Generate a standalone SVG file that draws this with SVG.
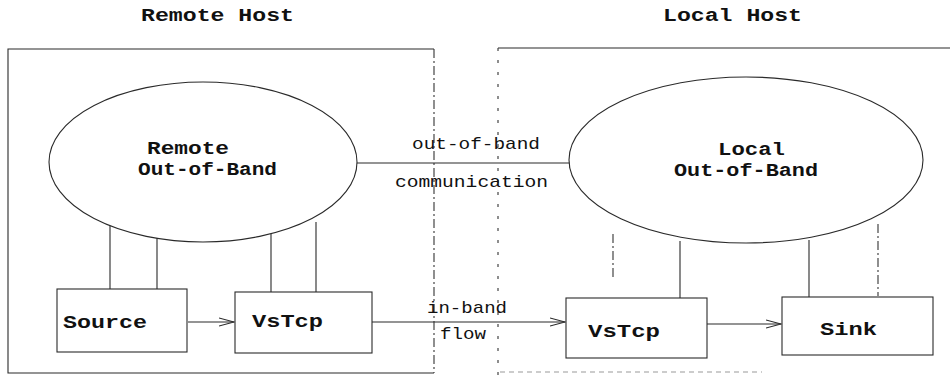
<svg xmlns="http://www.w3.org/2000/svg" width="950" height="376" viewBox="0 0 950 376">
  <style>
    .bg { fill: #ffffff; }
    .ln { stroke: #2a2a2a; stroke-width: 1.1; fill: none; }
    .dash { stroke: #333; stroke-width: 1.1; fill: none; stroke-dasharray: 9 3 2 3; }
    .sparse { stroke: #444; stroke-width: 1.2; fill: none; stroke-dasharray: 3 9; }
    .faint { stroke: #999; stroke-width: 1.2; fill: none; stroke-dasharray: 5 4; }
    .box { fill: #ffffff; stroke: #2a2a2a; stroke-width: 1.1; }
    .oval { fill: #ffffff; stroke: #2a2a2a; stroke-width: 1.1; }
    .title { font-family: "Liberation Mono", "Courier New", monospace; font-weight: bold; font-size: 18px; fill: #111; }
    .lbl { font-family: "Liberation Mono", "Courier New", monospace; font-size: 17px; fill: #111; }
  </style>
  <defs>
    <marker id="open" viewBox="0 0 16 10" refX="15" refY="5" markerWidth="16" markerHeight="10" markerUnits="userSpaceOnUse" orient="auto">
      <path d="M0,1 L15,5 L0,9" fill="none" stroke="#2a2a2a" stroke-width="1.1"/>
    </marker>
  </defs>
  <rect class="bg" width="950" height="376"/>

  <!-- host enclosures -->
  <g id="remote-host">
    <path class="ln" d="M434,49 L8,49 L8,373 L434,373"/>
    <path class="dash" d="M434,49 L434,373"/>
    <text class="title" x="141" y="21" textLength="153" lengthAdjust="spacingAndGlyphs">Remote Host</text>
  </g>
  <g id="local-host">
    <path class="ln" d="M498,48 L950,48"/>
    <path class="sparse" d="M498,48 L498,376"/>
    <path class="faint" d="M500,372 L762,372"/>
    <text class="title" x="663" y="21" textLength="139" lengthAdjust="spacingAndGlyphs">Local Host</text>
  </g>

  <!-- connectors -->
  <g id="connectors">
    <!-- out-of-band communication -->
    <path class="ln" d="M357,163 L570,163 M570,158 L570,168"/>
    <text class="lbl" x="412" y="149" textLength="128" lengthAdjust="spacingAndGlyphs">out-of-band</text>
    <text class="lbl" x="395" y="187" textLength="153" lengthAdjust="spacingAndGlyphs">communication</text>
    <!-- remote control links -->
    <path class="ln" d="M110,224 L110,289 M157,234 L157,289 M271,234 L271,292 M316,222 L316,292"/>
    <!-- local control links -->
    <path class="dash" d="M613,234 L613,277 M878,224 L878,296"/>
    <path class="ln" d="M680,241 L680,298 M809,240 L809,297"/>
    <!-- data path -->
    <path class="ln" d="M188,322 L234,322" marker-end="url(#open)"/>
    <path class="ln" d="M372,322 L565,322" marker-end="url(#open)"/>
    <path class="ln" d="M707,324 L781,324" marker-end="url(#open)"/>
    <text class="lbl" x="427" y="313" textLength="80" lengthAdjust="spacingAndGlyphs">in-band</text>
    <text class="lbl" x="440" y="339" textLength="46" lengthAdjust="spacingAndGlyphs">flow</text>
  </g>

  <g id="remote-oob">
    <ellipse class="oval" cx="203" cy="162" rx="154" ry="80"/>
    <text class="title" x="147" y="154" textLength="82" lengthAdjust="spacingAndGlyphs">Remote</text>
    <text class="title" x="138" y="175" textLength="139" lengthAdjust="spacingAndGlyphs">Out-of-Band</text>
  </g>
  <g id="local-oob">
    <ellipse class="oval" cx="746" cy="160" rx="177" ry="83"/>
    <text class="title" x="718" y="155" textLength="67" lengthAdjust="spacingAndGlyphs">Local</text>
    <text class="title" x="674" y="176" textLength="144" lengthAdjust="spacingAndGlyphs">Out-of-Band</text>
  </g>

  <g id="source">
    <rect class="box" x="57" y="289" width="130" height="63"/>
    <text class="title" x="63" y="328" textLength="84" lengthAdjust="spacingAndGlyphs">Source</text>
  </g>
  <g id="remote-vstcp">
    <rect class="box" x="235" y="292" width="137" height="61"/>
    <text class="title" x="252" y="327" textLength="71" lengthAdjust="spacingAndGlyphs">VsTcp</text>
  </g>
  <g id="local-vstcp">
    <rect class="box" x="566" y="298" width="141" height="60"/>
    <text class="title" x="588" y="337" textLength="72" lengthAdjust="spacingAndGlyphs">VsTcp</text>
  </g>
  <g id="sink">
    <rect class="box" x="782" y="297" width="151" height="58"/>
    <text class="title" x="820" y="335" textLength="57" lengthAdjust="spacingAndGlyphs">Sink</text>
  </g>
</svg>
